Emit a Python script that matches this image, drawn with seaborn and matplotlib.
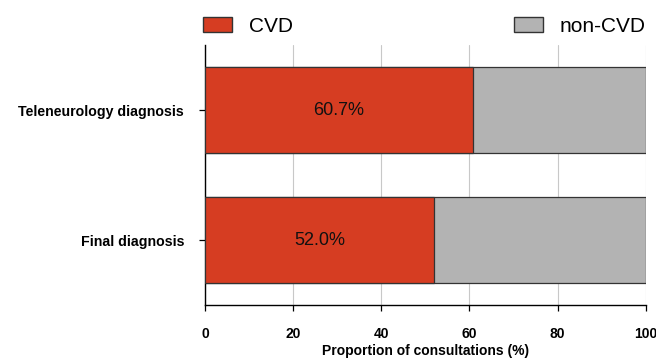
import pandas as pd
import matplotlib
matplotlib.use("Agg")
import matplotlib.pyplot as plt
import seaborn as sns
from matplotlib.patches import Patch

# values
categories = ["Teleneurology diagnosis", "Final diagnosis"]
cvd_pct = [60.7, 52.0]
noncvd_pct = [39.3, 48.0]
xticks = [0, 20, 40, 60, 80, 100]

red = "#D63D22"
grey = "#B3B3B3"

sns.set_theme(style="white")
plt.rcParams['font.family'] = ['Liberation Sans', 'DejaVu Sans']
plt.rcParams['text.color'] = 'black'
plt.rcParams['axes.labelcolor'] = 'black'
plt.rcParams['xtick.color'] = 'black'
plt.rcParams['ytick.color'] = 'black'

df = pd.DataFrame({"diag": categories, "cvd": cvd_pct, "noncvd": noncvd_pct})
df["total"] = df["cvd"] + df["noncvd"]

fig = plt.figure(figsize=(6.56, 3.58), dpi=100)
ax = fig.add_axes([0.3125, 0.148, 0.672, 0.726])

sns.barplot(data=df, x="total", y="diag", color=grey, width=0.656,
            edgecolor="#333333", linewidth=0.9, saturation=1, ax=ax, zorder=2)
sns.barplot(data=df, x="cvd", y="diag", color=red, width=0.656,
            edgecolor="#333333", linewidth=0.9, saturation=1, ax=ax, zorder=3)

for i, v in enumerate(cvd_pct):
    ax.text(v / 2, i, f"{v:.1f}%", ha="center", va="center", fontsize=13, color="#111111", zorder=4)

ax.set_xlim(0, 100)
ax.set_ylim(1.5, -0.5)
ax.set_xticks(xticks)
ax.set_xticklabels([str(t) for t in xticks], fontweight="bold", fontsize=10)
ax.set_yticks(range(len(categories)))
ax.set_yticklabels(categories, fontweight="bold", fontsize=10.2)
ax.set_xlabel("Proportion of consultations (%)", fontweight="bold", fontsize=10, labelpad=2)
ax.set_ylabel("")

ax.grid(axis="x", color="#C8C8C8", linewidth=0.8, zorder=0)
ax.set_axisbelow(True)
for s in ["top", "right"]:
    ax.spines[s].set_visible(False)
for s in ["left", "bottom"]:
    ax.spines[s].set_color("black")
    ax.spines[s].set_linewidth(1.0)
ax.tick_params(axis="x", which="both", bottom=True, length=4, width=0.9, color="black", pad=12)
ax.tick_params(axis="y", which="both", left=True, length=4, width=0.9, color="black", pad=11)

handles = [Patch(facecolor=red, edgecolor="#333333", label="CVD"),
           Patch(facecolor=grey, edgecolor="#333333", label="non-CVD")]
ax.legend(handles=handles, ncol=2, mode="expand", loc="lower left",
          bbox_to_anchor=(-0.005, 1.035, 1.005, 0.1), frameon=False, fontsize=15,
          handlelength=1.4, handleheight=0.75, handletextpad=0.8, borderaxespad=0, borderpad=0)

fig.savefig("out.png", dpi=100)
